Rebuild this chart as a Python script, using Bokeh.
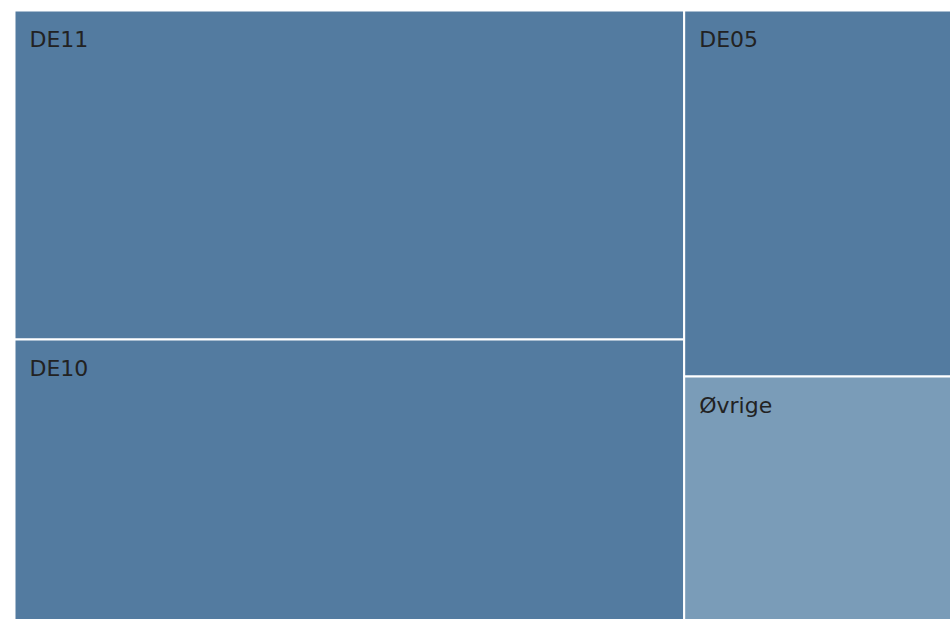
from bokeh.plotting import figure
from bokeh.models import ColumnDataSource, Range1d
from bokeh.embed import file_html
from bokeh.resources import INLINE
from bokeh.core.properties import value

# Data (shares, %)
labels = ["DE11", "DE10", "DE05", "Øvrige"]
values = [38.5, 32.9, 17.1, 11.4]
columns = [0, 0, 1, 1]          # which column of the treemap each tile sits in
colors = ["#537ba0", "#537ba0", "#537ba0", "#7a9cb8"]

total = sum(values)
col_ids = sorted(set(columns))
col_sums = {c: sum(v for v, cc in zip(values, columns) if cc == c) for c in col_ids}

left, right, top, bottom = [], [], [], []
x0 = 0.0
col_x = {}
for c in col_ids:
    w = col_sums[c] / total
    col_x[c] = (x0, x0 + w)
    x0 += w
y_cursor = {c: 1.0 for c in col_ids}
for v, c in zip(values, columns):
    h = v / col_sums[c]
    l, r = col_x[c]
    t = y_cursor[c]
    b = t - h
    y_cursor[c] = b
    left.append(l); right.append(r); top.append(t); bottom.append(b)

src = ColumnDataSource(dict(left=left, right=right, top=top, bottom=bottom,
                            color=colors, label=labels))

W, H = 950, 619
TW, TH = 937, 610    # treemap extent in pixels (partly clipped by the window)
OX, OY = 14, 10      # treemap offset from the top-left corner
p = figure(width=W, height=H, output_backend="svg", toolbar_location=None,
           x_range=Range1d(-OX / TW, (W - OX) / TW),
           y_range=Range1d(1 + OY / TH - H / TH, 1 + OY / TH),
           min_border=0)
p.axis.visible = False
p.grid.visible = False
p.outline_line_color = None
p.background_fill_color = "white"
p.border_fill_color = "white"

p.quad(left="left", right="right", top="top", bottom="bottom", source=src,
       fill_color="color", line_color="white", line_width=2)

p.text(x="left", y="top", text="label", source=src,
       x_offset=15, y_offset=29, text_baseline="alphabetic", text_align="left",
       text_font=value("DejaVu Sans"), text_font_size="22px", text_color="#222222")

open("out.html", "w").write(file_html(p, INLINE))
